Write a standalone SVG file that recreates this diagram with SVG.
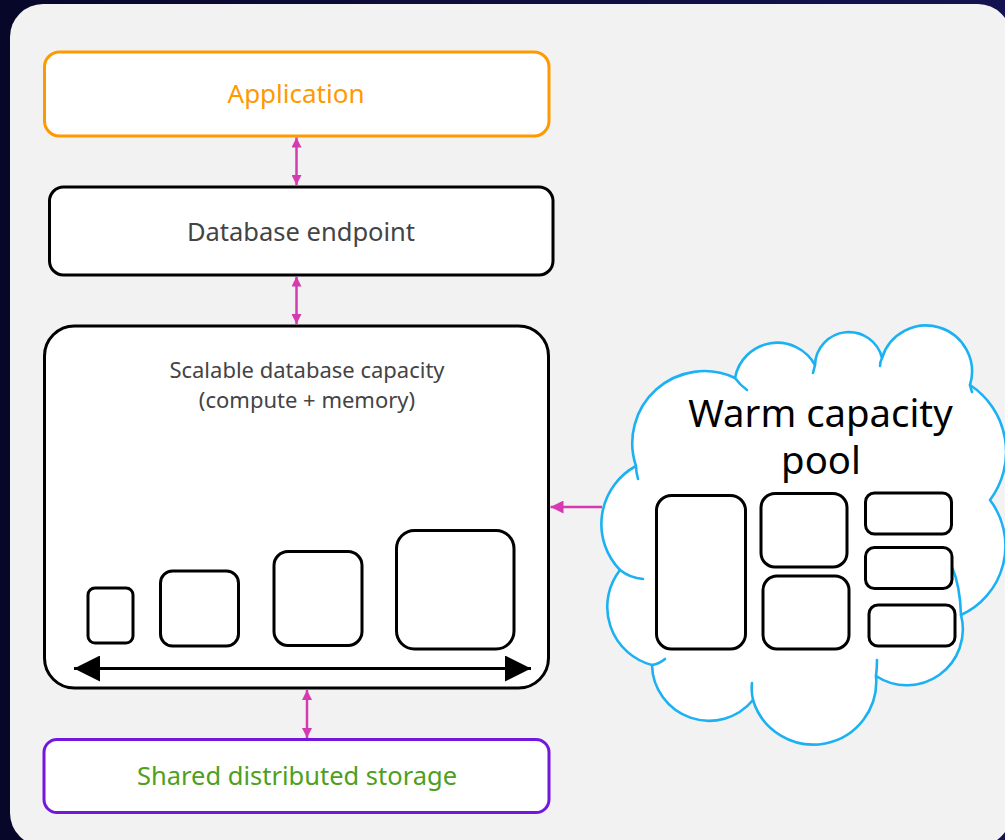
<svg xmlns="http://www.w3.org/2000/svg" width="1005" height="840" viewBox="0 0 1005 840">
  <defs>
    <linearGradient id="bg" x1="0" y1="0" x2="1" y2="0">
      <stop offset="0" stop-color="#07072a"/>
      <stop offset="1" stop-color="#131352"/>
    </linearGradient>
    <marker id="pk" viewBox="0 0 10 10" refX="10" refY="5" markerWidth="10" markerHeight="10" markerUnits="userSpaceOnUse" orient="auto-start-reverse">
      <path d="M0,0 L10,5 L0,10 z" fill="#d63ab0"/>
    </marker>
    <marker id="pkL" viewBox="0 0 10 10" refX="10" refY="5" markerWidth="13" markerHeight="13" markerUnits="userSpaceOnUse" orient="auto-start-reverse">
      <path d="M0,0 L10,5 L0,10 z" fill="#d63ab0"/>
    </marker>
    <marker id="bk" viewBox="0 0 26 26" refX="26" refY="13" markerWidth="26" markerHeight="26" markerUnits="userSpaceOnUse" orient="auto-start-reverse">
      <path d="M0,0 L26,13 L0,26 z" fill="#000"/>
    </marker>
  </defs>
  <style>
    .box { fill: #ffffff; stroke: #000000; stroke-width: 3; }
    .t { font-family: "Noto Sans", "Open Sans", sans-serif; text-anchor: middle; }
    .pink { stroke: #d63ab0; stroke-width: 2.5; fill: none; }
    .cloud { fill: #ffffff; stroke: #1cb1f2; stroke-width: 2.6; stroke-linejoin: round; }
    .stub { fill: none; stroke: #1cb1f2; stroke-width: 2.6; stroke-linecap: round; }
  </style>

  <rect x="0" y="0" width="1005" height="840" fill="url(#bg)"/>
  <rect x="10" y="4" width="1001" height="842" rx="33" ry="33" fill="#f2f2f2"/>

  <g id="node-application">
    <rect x="44.5" y="52" width="504.5" height="84" rx="15" ry="15" fill="#ffffff" stroke="#ff9900" stroke-width="3"/>
    <text class="t" x="296" y="103" font-size="26" fill="#ff9900">Application</text>
  </g>

  <g id="node-endpoint">
    <rect class="box" x="49.5" y="187" width="503.5" height="88" rx="14" ry="14"/>
    <text class="t" x="301" y="241" font-size="25.5" fill="#444444">Database endpoint</text>
  </g>

  <g id="node-capacity">
    <rect class="box" x="44.5" y="326" width="504" height="362" rx="30" ry="30"/>
    <text class="t" x="307" y="378" font-size="22" fill="#444444">Scalable database capacity</text>
    <text class="t" x="307" y="408" font-size="22" fill="#444444">(compute + memory)</text>
    <rect class="box" x="88" y="588" width="45" height="55" rx="7"/>
    <rect class="box" x="160.5" y="571" width="78" height="75" rx="12"/>
    <rect class="box" x="274" y="551.5" width="88" height="94" rx="14"/>
    <rect class="box" x="396.5" y="530.5" width="117.5" height="118.5" rx="18"/>
    <line x1="74" y1="668.5" x2="531" y2="668.5" stroke="#000" stroke-width="3.2" marker-start="url(#bk)" marker-end="url(#bk)"/>
  </g>

  <g id="node-storage">
    <rect x="44" y="739.5" width="505" height="73" rx="13" ry="13" fill="#ffffff" stroke="#7316e0" stroke-width="3"/>
    <text class="t" x="297" y="785" font-size="25.5" fill="#4d9f20">Shared distributed storage</text>
  </g>

  <g id="node-warm-pool">
    <path class="cloud" d="M636,466 A72,72 0 0 1 735,378 A43,43 0 0 1 815,365 A34,34 0 0 1 882,358 A46,46 0 0 1 970,385 A80,80 0 0 1 990,500 A76,76 0 0 1 961,615 A56,56 0 0 1 876,676 A63,63 0 0 1 753,700 A57,57 0 0 1 652,665 A60,60 0 0 1 620,570 A66,66 0 0 1 636,466 Z"/>
    <path class="stub" d="M636,466 Q636,472 638,479"/>
    <path class="stub" d="M620,570 Q630,578 643,579"/>
    <path class="stub" d="M652,665 Q659,664 665,659"/>
    <path class="stub" d="M753,700 Q751,690 752,683"/>
    <path class="stub" d="M876,676 Q877,668 877,660"/>
    <path class="stub" d="M961,615 Q960,585 952,567"/>
    <path class="stub" d="M970,385 Q971,389 972,392"/>
    <path class="stub" d="M882,358 Q880,362 880,366"/>
    <path class="stub" d="M815,365 Q814,369 813,373"/>
    <path class="stub" d="M735,378 Q740,385 747,390"/>
    <text class="t" x="820.5" y="427" font-size="38.3" fill="#000000">Warm capacity</text>
    <text class="t" x="821" y="474" font-size="38.3" fill="#000000">pool</text>
    <rect class="box" x="656.5" y="495.5" width="89" height="153.5" rx="15"/>
    <rect class="box" x="761" y="493.5" width="86" height="73.5" rx="14"/>
    <rect class="box" x="763" y="576" width="86" height="73" rx="14"/>
    <rect class="box" x="865.5" y="493" width="86" height="41" rx="9"/>
    <rect class="box" x="865.5" y="547.5" width="86.5" height="41" rx="9"/>
    <rect class="box" x="869" y="605" width="86" height="41" rx="9"/>
  </g>

  <g id="connectors">
    <line class="pink" x1="296.5" y1="137.5" x2="296.5" y2="185" marker-start="url(#pk)" marker-end="url(#pk)"/>
    <line class="pink" x1="296.5" y1="276.5" x2="296.5" y2="324" marker-start="url(#pk)" marker-end="url(#pk)"/>
    <line class="pink" x1="307" y1="690" x2="307" y2="738" marker-start="url(#pk)" marker-end="url(#pk)"/>
    <line class="pink" x1="602" y1="507" x2="550.5" y2="507" marker-end="url(#pkL)"/>
  </g>
</svg>
